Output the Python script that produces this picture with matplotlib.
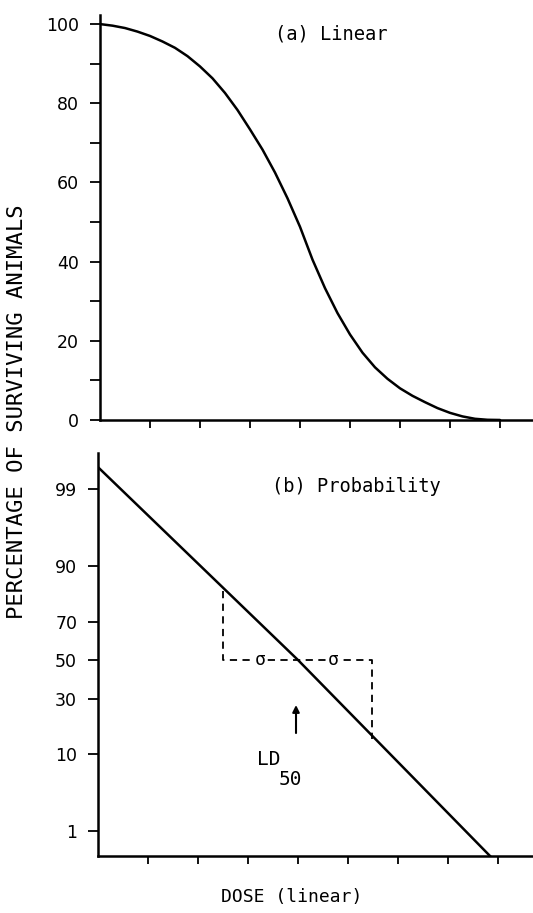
import numpy as np
import matplotlib
matplotlib.use('Agg')
import matplotlib.pyplot as plt
from statistics import NormalDist

# (a) survival curve
dose = [0, 0.25, 0.5, 0.75, 1, 1.25, 1.5, 1.75, 2, 2.25, 2.5, 2.75, 3, 3.25,
        3.5, 3.75, 4, 4.25, 4.5, 4.75, 5, 5.25, 5.5, 5.75, 6, 6.25, 6.5,
        6.75, 7, 7.25, 7.5, 7.75, 8]
survival = [100, 99.6, 99.0, 98.1, 97.0, 95.6, 94.0, 91.9, 89.3, 86.3, 82.6,
            78.3, 73.4, 68.3, 62.5, 56.0, 48.8, 40.5, 33.3, 27.0, 21.6, 17.0,
            13.3, 10.4, 8.0, 6.1, 4.5, 3.0, 1.8, 0.9, 0.3, 0.05, 0]

# (b) same data on probability paper: a straight line
prob_dose = [0, 4, 7.84]
prob_surv = [99.57, 50, 0.38]

# dashed +/- sigma construction
sig_dose = [2.5, 2.5, 5.48, 5.48]
sig_surv = [82.6, 50, 50, 14.2]

lin_ticks = [0, 20, 40, 60, 80, 100]
lin_minor = [10, 30, 50, 70, 90]
prob_ticks = [1, 10, 30, 50, 70, 90, 99]
prob_labels = ['1', '10', '30', '50', '70', '90', '99']
dose_ticks = [1, 2, 3, 4, 5, 6, 7, 8]

MONO = 'DejaVu Sans Mono'
nd = NormalDist()


def to_probit(p):
    p = np.clip(np.asarray(p, dtype=float) / 100.0, 1e-9, 1 - 1e-9)
    return np.vectorize(nd.inv_cdf, otypes=[float])(p)


def from_probit(z):
    return 100.0 * np.vectorize(nd.cdf, otypes=[float])(np.asarray(z, dtype=float))


fig = plt.figure(figsize=(5.33, 9.13), dpi=100)
ax1 = fig.add_axes([0.1876, 0.540, 0.8124, 0.4436])
ax2 = fig.add_axes([0.1839, 0.0624, 0.8161, 0.4414])

for ax in (ax1, ax2):
    for s in ('top', 'right'):
        ax.spines[s].set_visible(False)
    for s in ('left', 'bottom'):
        ax.spines[s].set_linewidth(1.8)
    ax.set_xticks(dose_ticks)
    ax.set_xticklabels([])
    ax.tick_params(axis='x', direction='out', length=6, width=1.3)
    ax.tick_params(axis='y', direction='out', length=7, width=1.3, pad=8, labelsize=12.5)
    ax.tick_params(which='minor', direction='out', length=7, width=1.3)

# top panel
ax1.plot(dose, survival, color='black', lw=1.8, solid_capstyle='round')
ax1.set_xlim(0, 8.66)
ax1.set_ylim(0, 102.3)
ax1.set_yticks(lin_ticks)
ax1.set_yticks(lin_minor, minor=True)
ax1.text(3.5, 0.953, '(a) Linear', transform=ax1.get_xaxis_transform(),
         family=MONO, fontsize=13.5, ha='left', va='center')

# bottom panel on probit scale
ax2.set_yscale('function', functions=(to_probit, from_probit))
ax2.plot(prob_dose, prob_surv, color='black', lw=1.8)
ax2.plot(sig_dose, sig_surv, color='black', lw=1.3, linestyle=(0, (4, 3)))
ax2.set_xlim(0, 8.7)
ax2.set_ylim(from_probit(-2.67), from_probit(2.82))
ax2.set_yticks(prob_ticks)
ax2.set_yticklabels(prob_labels)
ax2.yaxis.set_minor_locator(matplotlib.ticker.NullLocator())
ax2.text(3.48, 0.916, '(b) Probability', transform=ax2.get_xaxis_transform(),
         family=MONO, fontsize=13.5, ha='left', va='center')

for xs in (3.24, 4.7):
    ax2.text(xs, 50, '\u03c3', family=MONO, fontsize=13, ha='center', va='center',
             bbox=dict(facecolor='white', edgecolor='none', pad=0.5))

ax2.annotate('', xy=(3.96, 27), xytext=(3.96, 16),
             arrowprops=dict(arrowstyle='-|>', color='black', lw=1.5,
                             mutation_scale=10, shrinkA=0, shrinkB=0))
ax2.text(3.18, 8.7, 'LD', family=MONO, fontsize=14, ha='left', va='center')
ax2.text(3.62, 5.2, '50', family=MONO, fontsize=14, ha='left', va='center')

fig.text(0.548, 0.0175, 'DOSE (linear)', family=MONO, fontsize=13,
         ha='center', va='center')
fig.text(0.032, 0.549, 'PERCENTAGE OF SURVIVING ANIMALS', family=MONO, fontsize=16,
         rotation=90, ha='center', va='center')

fig.savefig('out.png', dpi=100, facecolor='white')
